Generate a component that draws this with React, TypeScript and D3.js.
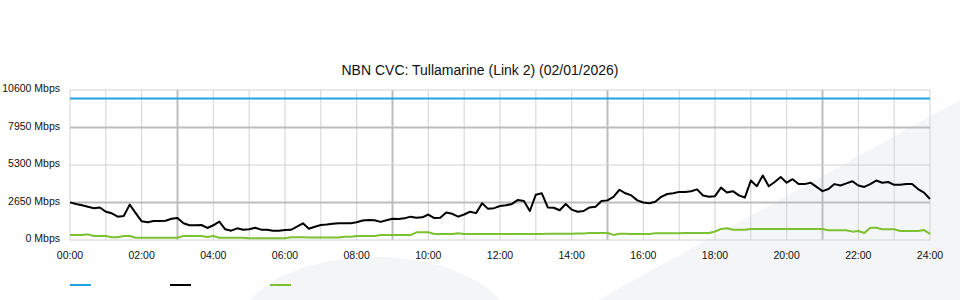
import React from "react";
import * as d3 from "d3";

const TITLE = "NBN CVC: Tullamarine (Link 2) (02/01/2026)";
const Y_TICKS = [0, 2650, 5300, 7950, 10600];
const Y_MAJOR = [2650, 7950];
const X_LABEL_HOURS = [0, 2, 4, 6, 8, 10, 12, 14, 16, 18, 20, 22, 24];
const X_MAJOR_HOURS = [3, 9, 15, 21];
const CAPACITY = 10000;

// 10-minute samples (hours = index / 6)
const downloadMbps = [
  2660, 2544, 2450, 2355, 2240, 2300, 2000, 1885, 1650, 1700,
  2500, 1900, 1320, 1250, 1340, 1340, 1360, 1500, 1550, 1180,
  1040, 1040, 1060, 850, 1040, 1300, 755, 660, 825, 730,
  755, 870, 730, 730, 660, 660, 707, 720, 940, 1180,
  800, 940, 1060, 1100, 1150, 1180, 1180, 1180, 1250, 1380,
  1420, 1400, 1280, 1400, 1500, 1480, 1530, 1650, 1580, 1600,
  1800, 1550, 1580, 1950, 1850, 1650, 1800, 2000, 1900, 2600,
  2200, 2250, 2400, 2450, 2550, 2830, 2750, 2050, 3200, 3300,
  2300, 2280, 2100, 2540, 2150, 2000, 2050, 2300, 2350, 2750,
  2800, 3050, 3550, 3300, 3150, 2800, 2650, 2600, 2700, 3050,
  3250, 3300, 3400, 3400, 3450, 3580, 3150, 3050, 3100, 3700,
  3350, 3450, 3150, 3000, 4200, 3800, 4550, 3800, 4100, 4450,
  4050, 4300, 3950, 3950, 4050, 3750, 3450, 3600, 3950, 3850,
  4000, 4150, 3850, 3750, 3950, 4200, 4050, 4100, 3900, 3900,
  3950, 3950, 3600, 3350, 2900,
];

const uploadMbps = [
  350, 350, 350, 400, 280, 280, 280, 190, 190, 280,
  280, 165, 165, 165, 165, 165, 165, 165, 165, 280,
  280, 280, 280, 220, 280, 165, 165, 165, 165, 165,
  120, 120, 120, 120, 120, 120, 120, 200, 190, 190,
  180, 180, 180, 180, 180, 180, 230, 230, 280, 280,
  280, 280, 350, 350, 350, 350, 350, 350, 545, 545,
  545, 420, 420, 420, 420, 470, 420, 420, 420, 420,
  420, 420, 420, 420, 420, 420, 420, 420, 420, 420,
  440, 440, 440, 440, 440, 460, 460, 490, 490, 490,
  490, 360, 440, 440, 420, 420, 420, 420, 470, 470,
  470, 470, 470, 490, 490, 490, 490, 490, 600, 780,
  825, 720, 720, 720, 780, 780, 780, 780, 780, 780,
  780, 780, 780, 780, 780, 780, 780, 690, 690, 690,
  690, 590, 640, 490, 860, 860, 760, 760, 760, 640,
  640, 640, 640, 700, 440,
];

const COLORS = { capacity: "#22a3e2", down: "#000000", up: "#7cc12f" };

export default function App() {
  const W = 960, H = 300;
  const left = 70, right = 930, top = 90, bottom = 240;
  const x = d3.scaleLinear().domain([0, 24]).range([left, right]);
  const y = d3.scaleLinear().domain([0, 10600]).range([bottom, top]);
  const hours = d3.range(0, 25);
  const line = d3
    .line<number>()
    .x((_, i) => x(i / 6))
    .y((d) => y(d));
  const fmt = (h: number) => `${String(h).padStart(2, "0")}:00`;
  const font = "'Liberation Sans', Arial, sans-serif";

  return (
    <svg
      width={W}
      height={H}
      style={{ position: "absolute", left: 0, top: 0, background: "#fff" }}
      fontFamily={font}
    >
      {/* watermark */}
      <ellipse cx={375} cy={330} rx={137} ry={73} fill="#f4f5f7" />
      <polygon points="598,300 960,100 960,300" fill="#f4f5f7" />

      {/* vertical grid */}
      {hours.map((h) => {
        const major = X_MAJOR_HOURS.includes(h);
        return (
          <line
            key={"vx" + h}
            x1={x(h)}
            x2={x(h)}
            y1={top}
            y2={bottom}
            stroke={major ? "#bdbdbd" : "#d2d2d2"}
            strokeWidth={major ? 2 : 1}
          />
        );
      })}
      {/* horizontal grid */}
      {Y_TICKS.map((v) => {
        const major = Y_MAJOR.includes(v);
        return (
          <line
            key={"hy" + v}
            x1={left}
            x2={right}
            y1={y(v)}
            y2={y(v)}
            stroke={major ? "#bdbdbd" : "#d2d2d2"}
            strokeWidth={major ? 2 : 1}
          />
        );
      })}

      {/* y labels */}
      {Y_TICKS.map((v) => (
        <text
          key={"yl" + v}
          x={60}
          y={y(v) + 2}
          textAnchor="end"
          fontSize={10.5}
          fill="#111"
        >
          {`${v} Mbps`}
        </text>
      ))}
      {/* x labels */}
      {X_LABEL_HOURS.map((h) => (
        <text
          key={"xl" + h}
          x={x(h)}
          y={259}
          textAnchor="middle"
          fontSize={10.5}
          fill="#111"
        >
          {fmt(h)}
        </text>
      ))}

      {/* series */}
      <line
        x1={left}
        x2={right}
        y1={y(CAPACITY)}
        y2={y(CAPACITY)}
        stroke={COLORS.capacity}
        strokeWidth={2}
      />
      <path
        d={line(uploadMbps) || ""}
        fill="none"
        stroke={COLORS.up}
        strokeWidth={2}
        strokeLinejoin="round"
      />
      <path
        d={line(downloadMbps) || ""}
        fill="none"
        stroke={COLORS.down}
        strokeWidth={2}
        strokeLinejoin="round"
      />

      {/* title */}
      <text x={480} y={75} textAnchor="middle" fontSize={14} fill="#111">
        {TITLE}
      </text>

      {/* legend swatches */}
      {[COLORS.capacity, COLORS.down, COLORS.up].map((c, i) => (
        <line
          key={"lg" + i}
          x1={70 + i * 100}
          x2={91 + i * 100}
          y1={285}
          y2={285}
          stroke={c}
          strokeWidth={2}
        />
      ))}
    </svg>
  );
}
